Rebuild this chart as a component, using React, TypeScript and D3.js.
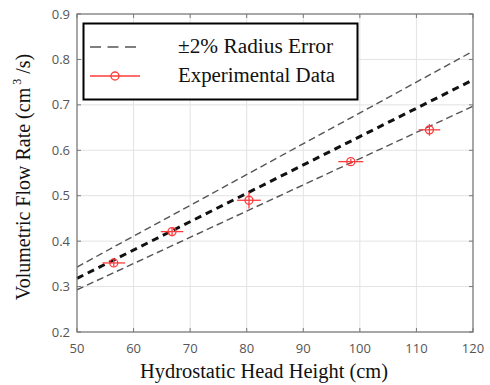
import React from "react";
import * as d3 from "d3";

const lineX = [50, 120];
const centerY = [0.318, 0.755];
const upperY = [0.343, 0.818];
const lowerY = [0.293, 0.697];

const dataX = [56.5, 66.8, 80.4, 98.4, 112.3];
const dataY = [0.352, 0.421, 0.49, 0.575, 0.645];
const xErr = [2, 2, 2.1, 2.2, 1.9];
const yErr = [0.008, 0.01, 0.018, 0.006, 0.013];

const xTicks = [50, 60, 70, 80, 90, 100, 110, 120];
const yTicks = [0.2, 0.3, 0.4, 0.5, 0.6, 0.7, 0.8, 0.9];

const W = 490, H = 385;
const L = 77, R = 473, T = 14, B = 332;

export default function App() {
  const x = d3.scaleLinear().domain([50, 120]).range([L, R]);
  const y = d3.scaleLinear().domain([0.2, 0.9]).range([B, T]);
  const line = (ys: number[]) =>
    d3.line<number>().x((_, i) => x(lineX[i])).y((v) => y(v))(ys) || "";
  const serif = "'Liberation Serif', 'Times New Roman', serif";
  const sans = "'Open Sans', 'DejaVu Sans', sans-serif";
  const red = "#ff3b3b";
  return (
    <svg width={W} height={H} style={{ position: "absolute", left: 0, top: 0, background: "#fff" }}>
      {/* grid */}
      {xTicks.map((t) => (
        <line key={"gx" + t} x1={x(t)} x2={x(t)} y1={T} y2={B} stroke="#e3e3e3" strokeWidth={1} />
      ))}
      {yTicks.map((t) => (
        <line key={"gy" + t} x1={L} x2={R} y1={y(t)} y2={y(t)} stroke="#e3e3e3" strokeWidth={1} />
      ))}
      {/* ticks */}
      {xTicks.map((t) => (
        <g key={"tx" + t}>
          <line x1={x(t)} x2={x(t)} y1={B} y2={B - 4} stroke="#777" />
          <line x1={x(t)} x2={x(t)} y1={T} y2={T + 4} stroke="#777" />
          <text x={x(t)} y={B + 21} textAnchor="middle" fontFamily={sans} fontSize={13} fill="#555">
            {t}
          </text>
        </g>
      ))}
      {yTicks.map((t) => (
        <g key={"ty" + t}>
          <line x1={L} x2={L + 4} y1={y(t)} y2={y(t)} stroke="#777" />
          <line x1={R} x2={R - 4} y1={y(t)} y2={y(t)} stroke="#777" />
          <text x={L - 7} y={y(t) + 4.5} textAnchor="end" fontFamily={sans} fontSize={13} fill="#555">
            {t.toFixed(1)}
          </text>
        </g>
      ))}
      {/* lines */}
      <path d={line(upperY)} fill="none" stroke="#555" strokeWidth={1.4} strokeDasharray="7,4" />
      <path d={line(lowerY)} fill="none" stroke="#555" strokeWidth={1.4} strokeDasharray="7,4" />
      <path d={line(centerY)} fill="none" stroke="#111" strokeWidth={3} strokeDasharray="7,5" />
      {/* data */}
      {dataX.map((dx, i) => (
        <g key={"p" + i} stroke={red} fill="none" strokeWidth={1.3}>
          <line x1={x(dx - xErr[i])} x2={x(dx + xErr[i])} y1={y(dataY[i])} y2={y(dataY[i])} />
          <line x1={x(dx)} x2={x(dx)} y1={y(dataY[i] - yErr[i])} y2={y(dataY[i] + yErr[i])} />
          <circle cx={x(dx)} cy={y(dataY[i])} r={4} />
        </g>
      ))}
      {/* frame */}
      <rect x={L} y={T} width={R - L} height={B - T} fill="none" stroke="#777" strokeWidth={1.2} />
      {/* legend */}
      <rect x={83.5} y={23.5} width={274} height={76} fill="#fff" stroke="#000" strokeWidth={2} />
      <line x1={90} x2={141} y1={47} y2={47} stroke="#555" strokeWidth={1.6} strokeDasharray="11,6.5" />
      <text x={178} y={53} fontFamily={serif} fontSize={20} fill="#111" textLength={155} lengthAdjust="spacingAndGlyphs">
        ±2% Radius Error
      </text>
      <line x1={90} x2={140} y1={76} y2={76} stroke={red} strokeWidth={1.3} />
      <circle cx={115} cy={76} r={4} fill="none" stroke={red} strokeWidth={1.3} />
      <text x={178} y={82} fontFamily={serif} fontSize={20} fill="#111" textLength={157} lengthAdjust="spacingAndGlyphs">
        Experimental Data
      </text>
      {/* axis titles */}
      <text x={(L + R) / 2 - 11} y={378} textAnchor="middle" fontFamily={serif} fontSize={20} fill="#111" textLength={248} lengthAdjust="spacingAndGlyphs">
        Hydrostatic Head Height (cm)
      </text>
      <text
        transform={`translate(30, ${(T + B) / 2 + 4}) rotate(-90)`}
        textAnchor="middle"
        fontFamily={serif}
        fontSize={20}
        fill="#111"
      >
        Volumetric Flow Rate (cm
        <tspan dy={-9} fontSize={12}> 3</tspan>
        <tspan dy={9}> /s)</tspan>
      </text>
    </svg>
  );
}
